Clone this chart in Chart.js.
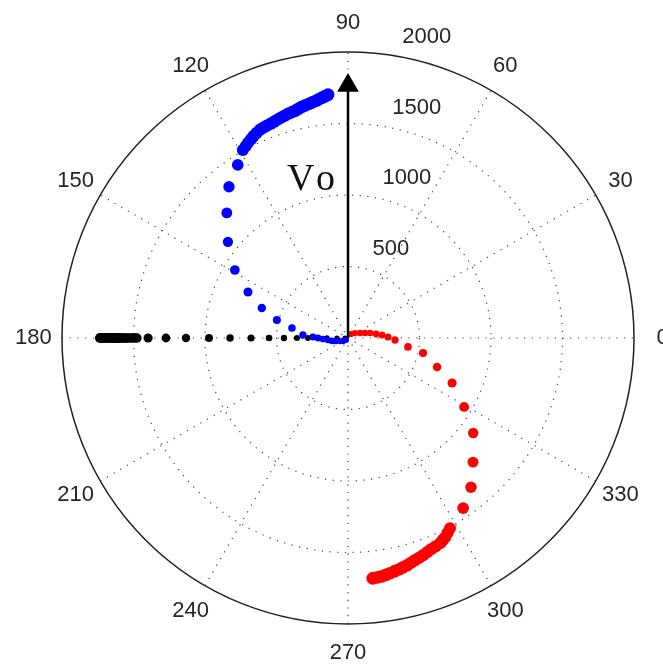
<!DOCTYPE html>
<html>
<head>
<meta charset="utf-8">
<title>Polar plot</title>
<script src="https://cdn.jsdelivr.net/npm/chart.js@4.4.1/dist/chart.umd.min.js"></script>
<style>
  html, body { margin: 0; padding: 0; background: #fff; }
  canvas { display: block; }
</style>
</head>
<body>
<canvas id="polarChart" width="663" height="664"></canvas>
<script>
// radial rings and angle labels
const ringTicks = [500, 1000, 1500, 2000];
const angleTicks = [0, 30, 60, 90, 120, 150, 180, 210, 240, 270, 300, 330];
const rMax = 2000;

// blue branch (magnitude, angle in degrees)
const blueR = [20, 41, 60, 87, 114, 141, 175, 210, 245, 316, 398, 513, 638, 770, 923, 1076, 1218, 1346, 1435,
  1507, 1520, 1534, 1547, 1560, 1570, 1581, 1585, 1589, 1593, 1598, 1604, 1610, 1616, 1623, 1627, 1632,
  1640, 1649, 1654, 1660, 1667, 1674, 1682, 1690, 1698, 1707];
const blueTheta = [225, 211, 200.6, 194, 190.6, 185.7, 182.3, 180, 178.4, 176.2, 169.9, 165.8, 160.8, 155.3, 149, 141.3, 134.1, 128.2, 122.5,
  119.2, 118.1, 117.1, 116, 115, 114, 112.9, 111.9, 110.9, 109.9, 108.9, 107.9, 106.9, 106, 105, 104, 103.1,
  102.2, 101.3, 100.4, 99.5, 98.6, 97.7, 97, 96.2, 95.4, 94.7];

// red branch
const redR = [35, 60, 91, 124, 158, 198, 239, 280, 329, 424, 535, 655, 793, 944, 1099, 1232, 1352, 1436,
  1509, 1530, 1550, 1561, 1573, 1580, 1587, 1597, 1607, 1615, 1623, 1632, 1642, 1649, 1656, 1663, 1671,
  1677, 1683, 1686, 1689];
const redTheta = [53, 35.5, 22.6, 16.4, 12.8, 8.1, 5, 1.4, 357.6, 351.5, 348.7, 342, 336.6, 329.3, 322.8, 315.2, 309.5, 304.1,
  298.2, 297.1, 296, 295.1, 294.2, 292.8, 291.5, 290.3, 289.1, 288, 286.8, 285.7, 284.6, 283.5, 282.5, 281.3, 280.1,
  279.1, 278.1, 277, 275.9];

// black branch along 180 deg
const blackR = [21, 77, 147, 210, 280, 357, 448, 552, 678, 825, 972, 1133, 1273, 1398,
  1476, 1490, 1503, 1520, 1538, 1552, 1566, 1580, 1594, 1608, 1622, 1636, 1650, 1664, 1678, 1695, 1713, 1724, 1734];
const blackTheta = [180, 180, 180, 180, 180, 180, 180, 180, 180, 180, 180, 180, 180, 180,
  180, 180, 180, 180, 180, 180, 180, 180, 180, 180, 180, 180, 180, 180, 180, 180, 180, 180, 180];

// Vo vector
const voR = [0, 1766];
const voTheta = [90, 90];

function toXY(rs, thetas) {
    return rs.map((r, i) => {
        const t = thetas[i] * Math.PI / 180;
        return { x: r * Math.cos(t), y: r * Math.sin(t) };
    });
}

function markerSize(ctx, base, k) {
    const p = ctx.raw;
    if (!p) return base;
    const r = Math.sqrt(p.x * p.x + p.y * p.y);
    return base + r / rMax * k;
}

const polarGrid = {
    id: 'polarGrid',
    beforeDatasetsDraw(chart) {
        const ctx = chart.ctx;
        const xs = chart.scales.x, ys = chart.scales.y;
        const cx = xs.getPixelForValue(0), cy = ys.getPixelForValue(0);
        const rad = v => xs.getPixelForValue(v) - cx;
        ctx.save();
        ctx.strokeStyle = '#444';
        ctx.lineWidth = 1.2;
        ctx.setLineDash([1.2, 6.5]);
        ringTicks.slice(0, -1).forEach(v => {
            ctx.beginPath();
            ctx.arc(cx, cy, rad(v), 0, Math.PI * 2);
            ctx.stroke();
        });
        [0, 30, 60, 90, 120, 150].forEach(a => {
            const t = a * Math.PI / 180;
            ctx.beginPath();
            ctx.moveTo(xs.getPixelForValue(-rMax * Math.cos(t)), ys.getPixelForValue(-rMax * Math.sin(t)));
            ctx.lineTo(xs.getPixelForValue(rMax * Math.cos(t)), ys.getPixelForValue(rMax * Math.sin(t)));
            ctx.stroke();
        });
        ctx.setLineDash([]);
        ctx.strokeStyle = '#222';
        ctx.lineWidth = 1.5;
        ctx.beginPath();
        ctx.arc(cx, cy, rad(rMax), 0, Math.PI * 2);
        ctx.stroke();
        ctx.restore();
    },
    afterDatasetsDraw(chart) {
        const ctx = chart.ctx;
        const xs = chart.scales.x, ys = chart.scales.y;
        ctx.save();
        ctx.fillStyle = '#262626';
        ctx.font = '22px "Liberation Sans", Arial, sans-serif';
        ctx.textAlign = 'center';
        ctx.textBaseline = 'middle';
        angleTicks.forEach(a => {
            const t = a * Math.PI / 180;
            ctx.fillText(String(a), xs.getPixelForValue(1.1 * rMax * Math.cos(t)), ys.getPixelForValue(1.1 * rMax * Math.sin(t)));
        });
        // ring labels at 82 deg, like matlab's polar()
        const c82 = Math.cos(82 * Math.PI / 180), s82 = Math.sin(82 * Math.PI / 180);
        ctx.textAlign = 'left';
        ringTicks.forEach(v => {
            const r = v + rMax / 4 / 20;
            ctx.fillText(String(v), xs.getPixelForValue(r * c82) + 14, ys.getPixelForValue(r * s82) - 14.5);
        });
        ctx.fillStyle = '#111';
        ctx.font = '38px "Liberation Serif", "Times New Roman", serif';
        ctx.textBaseline = 'alphabetic';
        ctx.fillText('V', 287, 190);
        ctx.fillText('o', 316, 190);
        ctx.restore();
    }
};

new Chart(document.getElementById('polarChart').getContext('2d'), {
    type: 'scatter',
    data: {
        datasets: [
            {
                label: 'Vo',
                data: toXY(voR, voTheta),
                showLine: true,
                borderColor: '#000',
                borderWidth: 2.5,
                backgroundColor: '#000',
                pointStyle: 'triangle',
                pointRadius: ctx => ctx.dataIndex === 1 ? 12.5 : 0,
                pointBorderWidth: 0
            },
            {
                label: 'red',
                data: toXY(redR, redTheta),
                backgroundColor: '#ff0000',
                borderWidth: 0,
                pointRadius: ctx => markerSize(ctx, 3, 4)
            },
            {
                label: 'blue',
                data: toXY(blueR, blueTheta),
                backgroundColor: '#0000ff',
                borderWidth: 0,
                pointRadius: ctx => markerSize(ctx, 3, 4)
            },
            {
                label: 'black',
                data: toXY(blackR, blackTheta),
                backgroundColor: '#000',
                borderWidth: 0,
                pointRadius: ctx => markerSize(ctx, 2.5, 3)
            }
        ]
    },
    options: {
        responsive: false,
        animation: false,
        events: [],
        layout: { padding: { left: 62, right: 29, top: 52, bottom: 40 } },
        plugins: { legend: { display: false }, tooltip: { enabled: false } },
        scales: {
            x: { type: 'linear', min: -rMax, max: rMax, display: false },
            y: { type: 'linear', min: -rMax, max: rMax, display: false }
        }
    },
    plugins: [polarGrid]
});
</script>
</body>
</html>
